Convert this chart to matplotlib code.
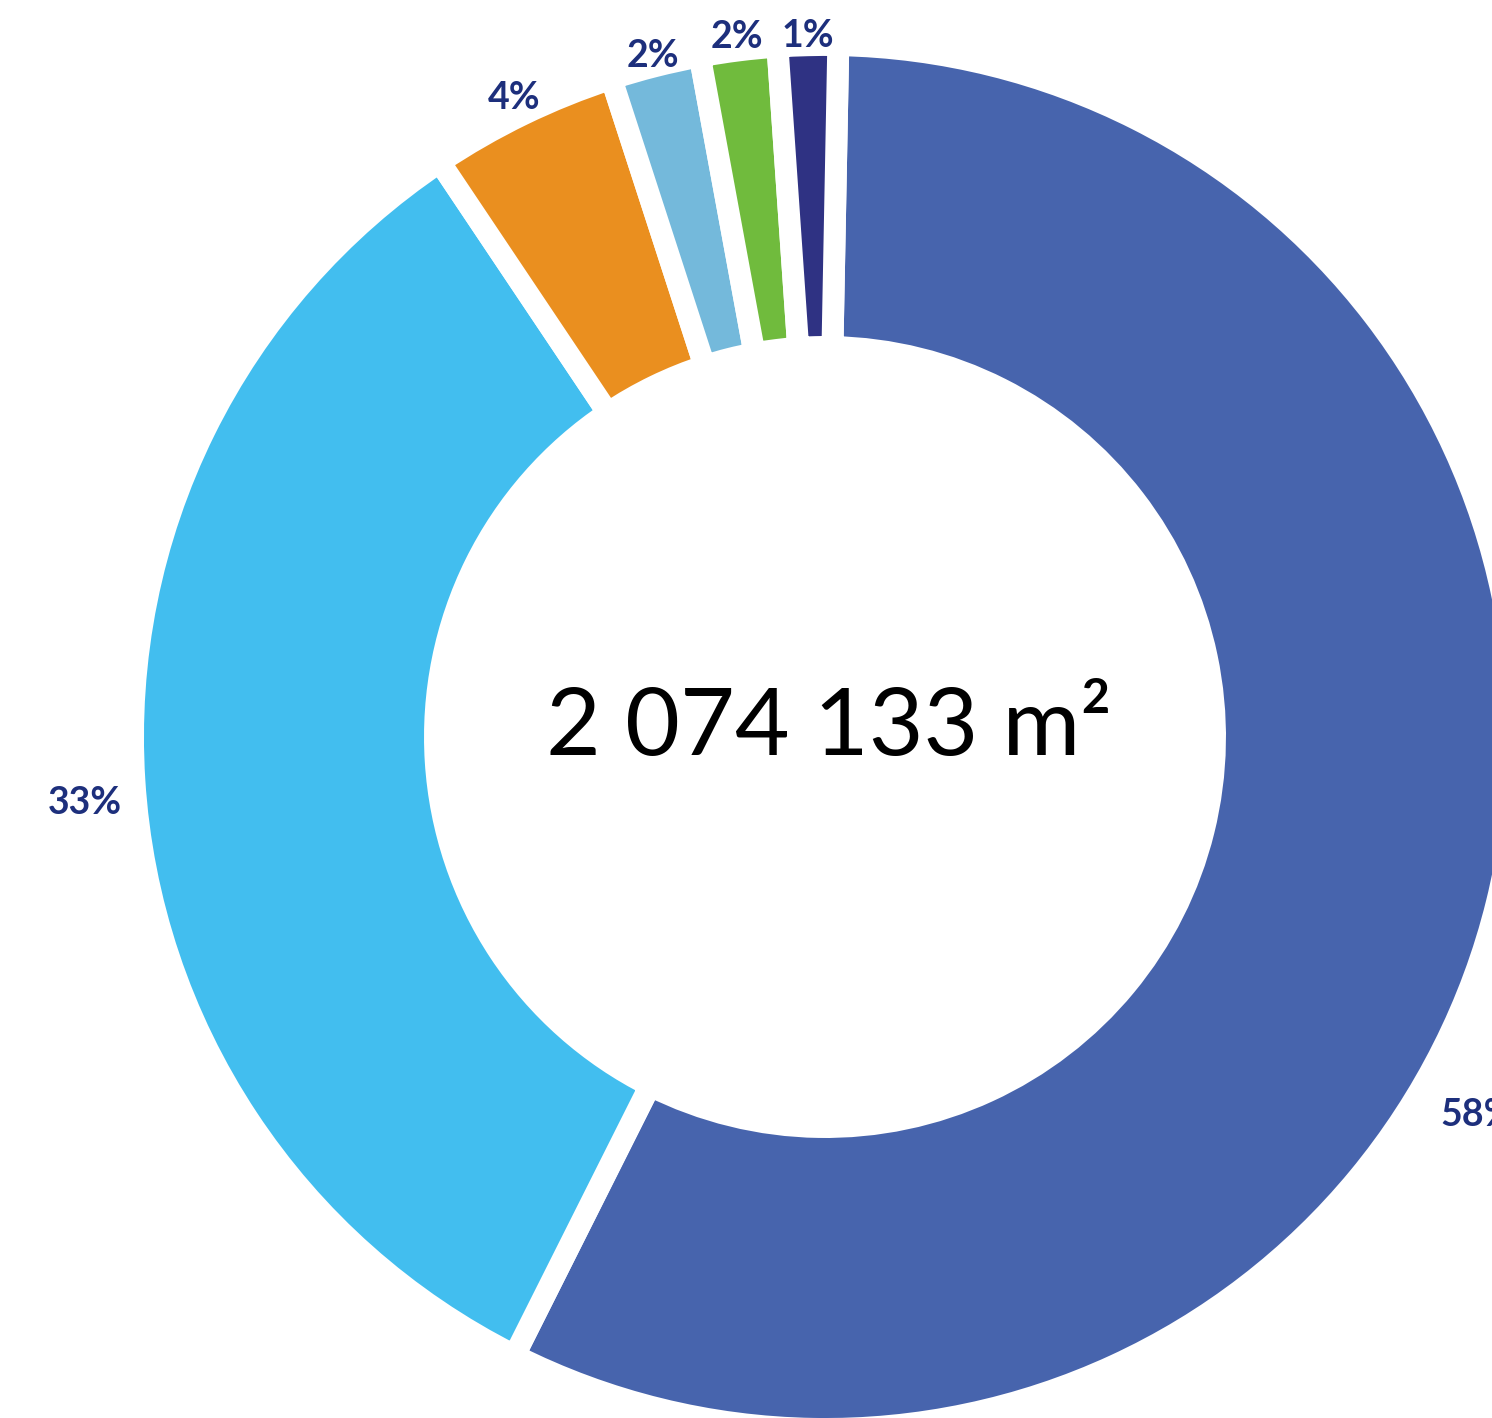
"""Donut chart - surface breakdown"""
import numpy as np
import matplotlib
matplotlib.use("Agg")
import matplotlib.pyplot as plt

# shares of the total surface (percent)
shares = [57.1, 33.2, 4.4, 2.1, 1.8, 1.4]
labels = ["58%", "33%", "4%", "2%", "2%", "1%"]
colors = ["#4764AD", "#42BEEF", "#EA8F1F", "#74B9DB", "#70BB3D", "#2F3283"]
total_text = "2 074 133 m²"

label_color = "#1D2F7C"
# label placement: distance from centre and angle nudge (deg) per slice
label_r = [1.090, 1.074, 1.027, 1.015, 1.019, 1.014]
label_shift = [-16.2, 1.5, 0.0, 0.0, 0.0, 0.0]

scale = 692.0          # pixels per data unit
cx, cy = 825.0, 737.0  # centre of the donut in pixels
W, H = 1492, 1418

fig = plt.figure(figsize=(W / 100, H / 100), dpi=100)
ax = fig.add_axes([0, 0, 1, 1])

wedges, _ = ax.pie(shares, colors=colors, startangle=88.9, counterclock=False,
                   radius=1.0,
                   wedgeprops=dict(width=0.4364, edgecolor="white", linewidth=15.8))

for w, lab, r, sh in zip(wedges, labels, label_r, label_shift):
    ang = np.deg2rad((w.theta1 + w.theta2) / 2 + sh)
    ax.text(r * np.cos(ang), r * np.sin(ang), lab, ha="center", va="center",
            fontsize=27, fontweight="bold", color=label_color, family="Lato")

ax.text(0.005, 0.012, total_text, ha="center", va="center", fontsize=68,
        color="black", family="Lato")

ax.set_xlim(-cx / scale, (W - cx) / scale)
ax.set_ylim(-(H - cy) / scale, cy / scale)
ax.set_aspect("auto")
ax.axis("off")

fig.savefig("out.png", dpi=100, facecolor="white")
